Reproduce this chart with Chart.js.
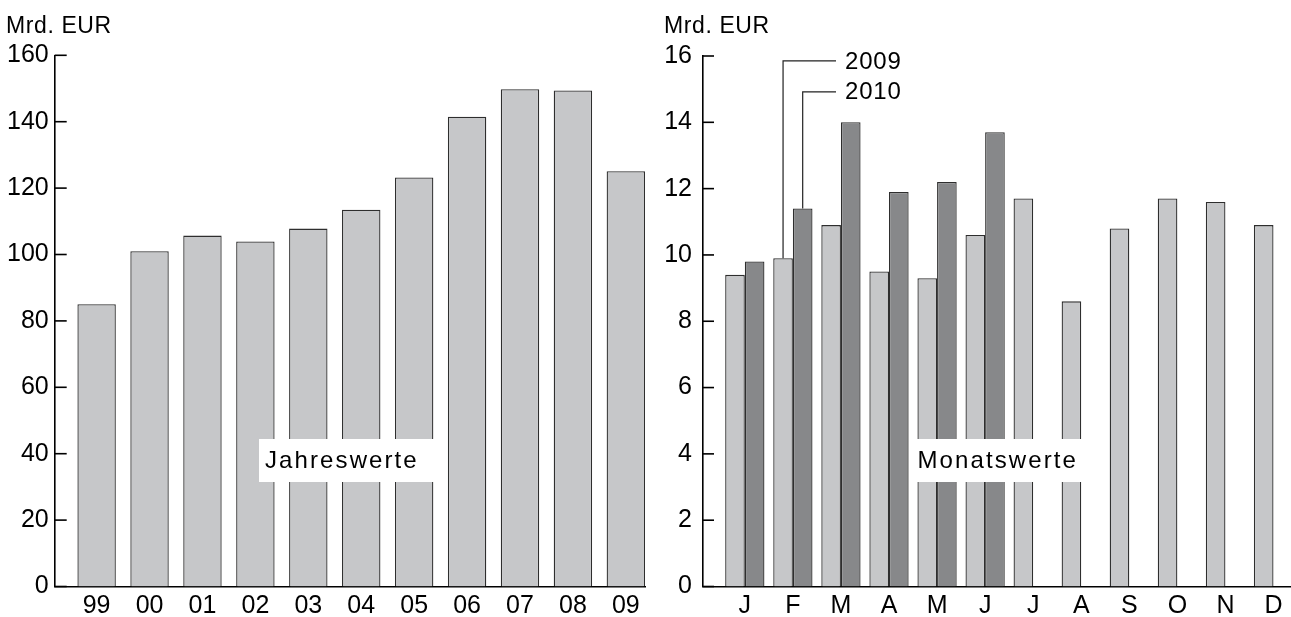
<!DOCTYPE html>
<html>
<head>
<meta charset="utf-8">
<script src="https://cdn.jsdelivr.net/npm/chart.js@4.4.1/dist/chart.umd.min.js"></script>
<style>
  html, body { margin: 0; padding: 0; background: #fff; overflow: hidden; }
  #leftChart { position: absolute; left: 0; top: 0; }
  #rightChart { position: absolute; left: 650px; top: 0; }
</style>
</head>
<body>
<canvas id="leftChart" width="650" height="617"></canvas>
<canvas id="rightChart" width="641" height="617"></canvas>
<script>
// Jahreswerte (Mrd. EUR)
const years = ['99', '00', '01', '02', '03', '04', '05', '06', '07', '08', '09'];
const yearly = [85, 101, 105.7, 103.9, 107.8, 113.5, 123.2, 141.5, 149.8, 149.4, 125.1];
const yearTicks = [0, 20, 40, 60, 80, 100, 120, 140, 160];

// Monatswerte (Mrd. EUR)
const months = ['J', 'F', 'M', 'A', 'M', 'J', 'J', 'A', 'S', 'O', 'N', 'D'];
const monthly2009 = [9.4, 9.9, 10.9, 9.5, 9.3, 10.6, 11.7, 8.6, 10.8, 11.7, 11.6, 10.9];
const monthly2010 = [9.8, 11.4, 14.0, 11.9, 12.2, 13.7];
const monthTicks = [0, 2, 4, 6, 8, 10, 12, 14, 16];

const LIGHT = '#c6c7c9';
const DARK = '#87888a';
const EDGE = '#2e2e2e';
const FONT = '"Liberation Sans", Arial, sans-serif';

// linear x scale so the first bar can sit away from the y axis
function xScale(labels, min, max) {
  return {
    type: 'linear', min: min, max: max, bounds: 'data', offset: false,
    grid: { display: false, drawTicks: false, offset: false },
    border: { display: true, color: '#000', width: 1.6 },
    afterBuildTicks: s => { s.ticks = labels.map((_, i) => ({ value: i })); },
    afterFit: s => { s.height = 30.5; },
    ticks: {
      autoSkip: false, maxRotation: 0, padding: 5, color: '#000',
      font: { family: FONT, size: 25 },
      callback: v => labels[v]
    }
  };
}

function yScale(ticks, width, pad) {
  return {
    min: ticks[0], max: ticks[ticks.length - 1],
    grid: { display: false, drawTicks: false },
    border: { display: true, color: '#000', width: 1.6 },
    afterBuildTicks: s => { s.ticks = ticks.map(v => ({ value: v })); },
    afterFit: s => { s.width = width; },
    ticks: { padding: pad, color: '#000', font: { family: FONT, size: 25 } }
  };
}

// inward tick marks, unit label and the white caption box
function decor(o) {
  return {
    id: 'decor',
    afterDraw(chart) {
      const { ctx, chartArea: a, scales: { y } } = chart;
      ctx.save();
      ctx.strokeStyle = '#000';
      ctx.lineWidth = 1.6;
      y.ticks.forEach(t => {
        const py = y.getPixelForValue(t.value);
        ctx.beginPath();
        ctx.moveTo(a.left, py);
        ctx.lineTo(a.left + o.tick, py);
        ctx.stroke();
      });
      ctx.fillStyle = '#000';
      ctx.textBaseline = 'alphabetic';
      ctx.font = '23px ' + FONT;
      ctx.letterSpacing = '0.6px';
      ctx.fillText('Mrd. EUR', o.unitX, 32.5);

      ctx.fillStyle = '#fff';
      ctx.fillRect(o.box[0], 439, o.box[1] - o.box[0], 43);
      ctx.fillStyle = '#000';
      ctx.font = '24px ' + FONT;
      ctx.letterSpacing = '2.1px';
      ctx.fillText(o.caption, o.box[0] + 6, 467.5);
      if (o.extra) o.extra(chart);
      ctx.restore();
    }
  };
}

new Chart(document.getElementById('leftChart'), {
  type: 'bar',
  data: {
    datasets: [{
      data: yearly.map((v, i) => ({ x: i, y: v })),
      backgroundColor: LIGHT, borderColor: EDGE, borderWidth: 1.3,
      categoryPercentage: 1, barPercentage: 0.726
    }]
  },
  options: {
    responsive: false, animation: false,
    layout: { padding: { top: 55.3, right: 5, left: 0, bottom: 0 } },
    plugins: { legend: { display: false }, tooltip: { enabled: false } },
    scales: { x: xScale(years, -0.792, 10.362), y: yScale(yearTicks, 54.7, 6) }
  },
  plugins: [decor({ tick: 12, unitX: 6, box: [259, 436], caption: 'Jahreswerte' })]
});

new Chart(document.getElementById('rightChart'), {
  type: 'bar',
  data: {
    datasets: [{
      label: '2009',
      data: monthly2009.map((v, i) => ({ x: i, y: v })),
      backgroundColor: LIGHT, borderColor: EDGE, borderWidth: 1.3,
      categoryPercentage: 0.817, barPercentage: 1
    }, {
      label: '2010',
      data: monthly2010.map((v, i) => ({ x: i, y: v })),
      backgroundColor: DARK, borderColor: EDGE, borderWidth: 1.3,
      categoryPercentage: 0.817, barPercentage: 1
    }]
  },
  options: {
    responsive: false, animation: false,
    layout: { padding: { top: 56, right: 0, left: 0, bottom: 0 } },
    plugins: { legend: { display: false }, tooltip: { enabled: false } },
    scales: { x: xScale(months, -0.87, 11.364), y: yScale(monthTicks, 53, 11) }
  },
  plugins: [decor({
    tick: 11, unitX: 14, box: [261.5, 433], caption: 'Monatswerte',
    extra: chart => {
      // leader lines from the February bars to the year labels
      const ctx = chart.ctx, y = chart.scales.y;
      const labels = [['2009', 0, 15.85], ['2010', 1, 14.92]];
      ctx.strokeStyle = '#222';
      ctx.lineWidth = 1.2;
      ctx.font = '24px ' + FONT;
      ctx.letterSpacing = '0.8px';
      ctx.textBaseline = 'middle';
      labels.forEach(([txt, ds, lv]) => {
        const bar = chart.getDatasetMeta(ds).data[1];
        const ly = y.getPixelForValue(lv);
        ctx.beginPath();
        ctx.moveTo(bar.x, bar.y);
        ctx.lineTo(bar.x, ly);
        ctx.lineTo(186, ly);
        ctx.stroke();
        ctx.fillText(txt, 195, ly + 1);
      });
    }
  })]
});
</script>
</body>
</html>
